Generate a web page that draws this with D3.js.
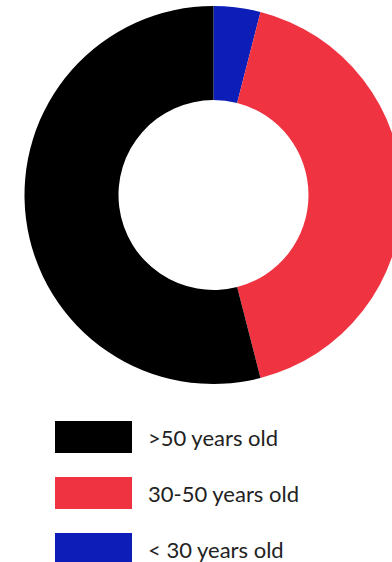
<html>
<head>
<script src="https://d3js.org/d3.v7.min.js"></script>
<style>
  body { margin: 0; background: #fff; }
</style>
</head>
<body>
<div id="chart"></div>
<script>
// age groups, in drawing order (clockwise from 12 o'clock)
var categories = ["< 30 years old", "30-50 years old", ">50 years old"];
var values = [4, 42, 54];
var colors = ["#0d1eb8", "#ef3341", "#000000"];
// legend order (top to bottom)
var legendOrder = [">50 years old", "30-50 years old", "< 30 years old"];

var width = 392, height = 562;
var cx = 213.5, cy = 195, outerR = 189, innerR = 95;

var svg = d3.select("#chart").append("svg")
  .attr("width", width)
  .attr("height", height);

var data = categories.map(function(c, i) { return {label: c, value: values[i], color: colors[i]}; });

var pie = d3.pie()
  .sort(null)
  .value(function(d) { return d.value; });

var arc = d3.arc()
  .innerRadius(innerR)
  .outerRadius(outerR);

var g = svg.append("g")
  .attr("transform", "translate(" + cx + "," + cy + ")");

g.selectAll("path")
  .data(pie(data))
  .enter().append("path")
  .attr("d", arc)
  .attr("fill", function(d) { return d.data.color; });

// legend
var colorOf = d3.scaleOrdinal().domain(categories).range(colors);
var legendY = d3.scalePoint().domain(legendOrder).range([421, 533]);

var legend = svg.append("g");
var rows = legend.selectAll("g")
  .data(legendOrder)
  .enter().append("g")
  .attr("transform", function(d) { return "translate(55," + legendY(d) + ")"; });

rows.append("rect")
  .attr("width", 77)
  .attr("height", 32)
  .attr("fill", function(d) { return colorOf(d); });

rows.append("text")
  .attr("x", 93)
  .attr("y", 25)
  .style("font-family", "Lato, 'Open Sans', sans-serif")
  .style("font-size", "22px")
  .attr("fill", "#222")
  .text(function(d) { return d; });
</script>
</body>
</html>
